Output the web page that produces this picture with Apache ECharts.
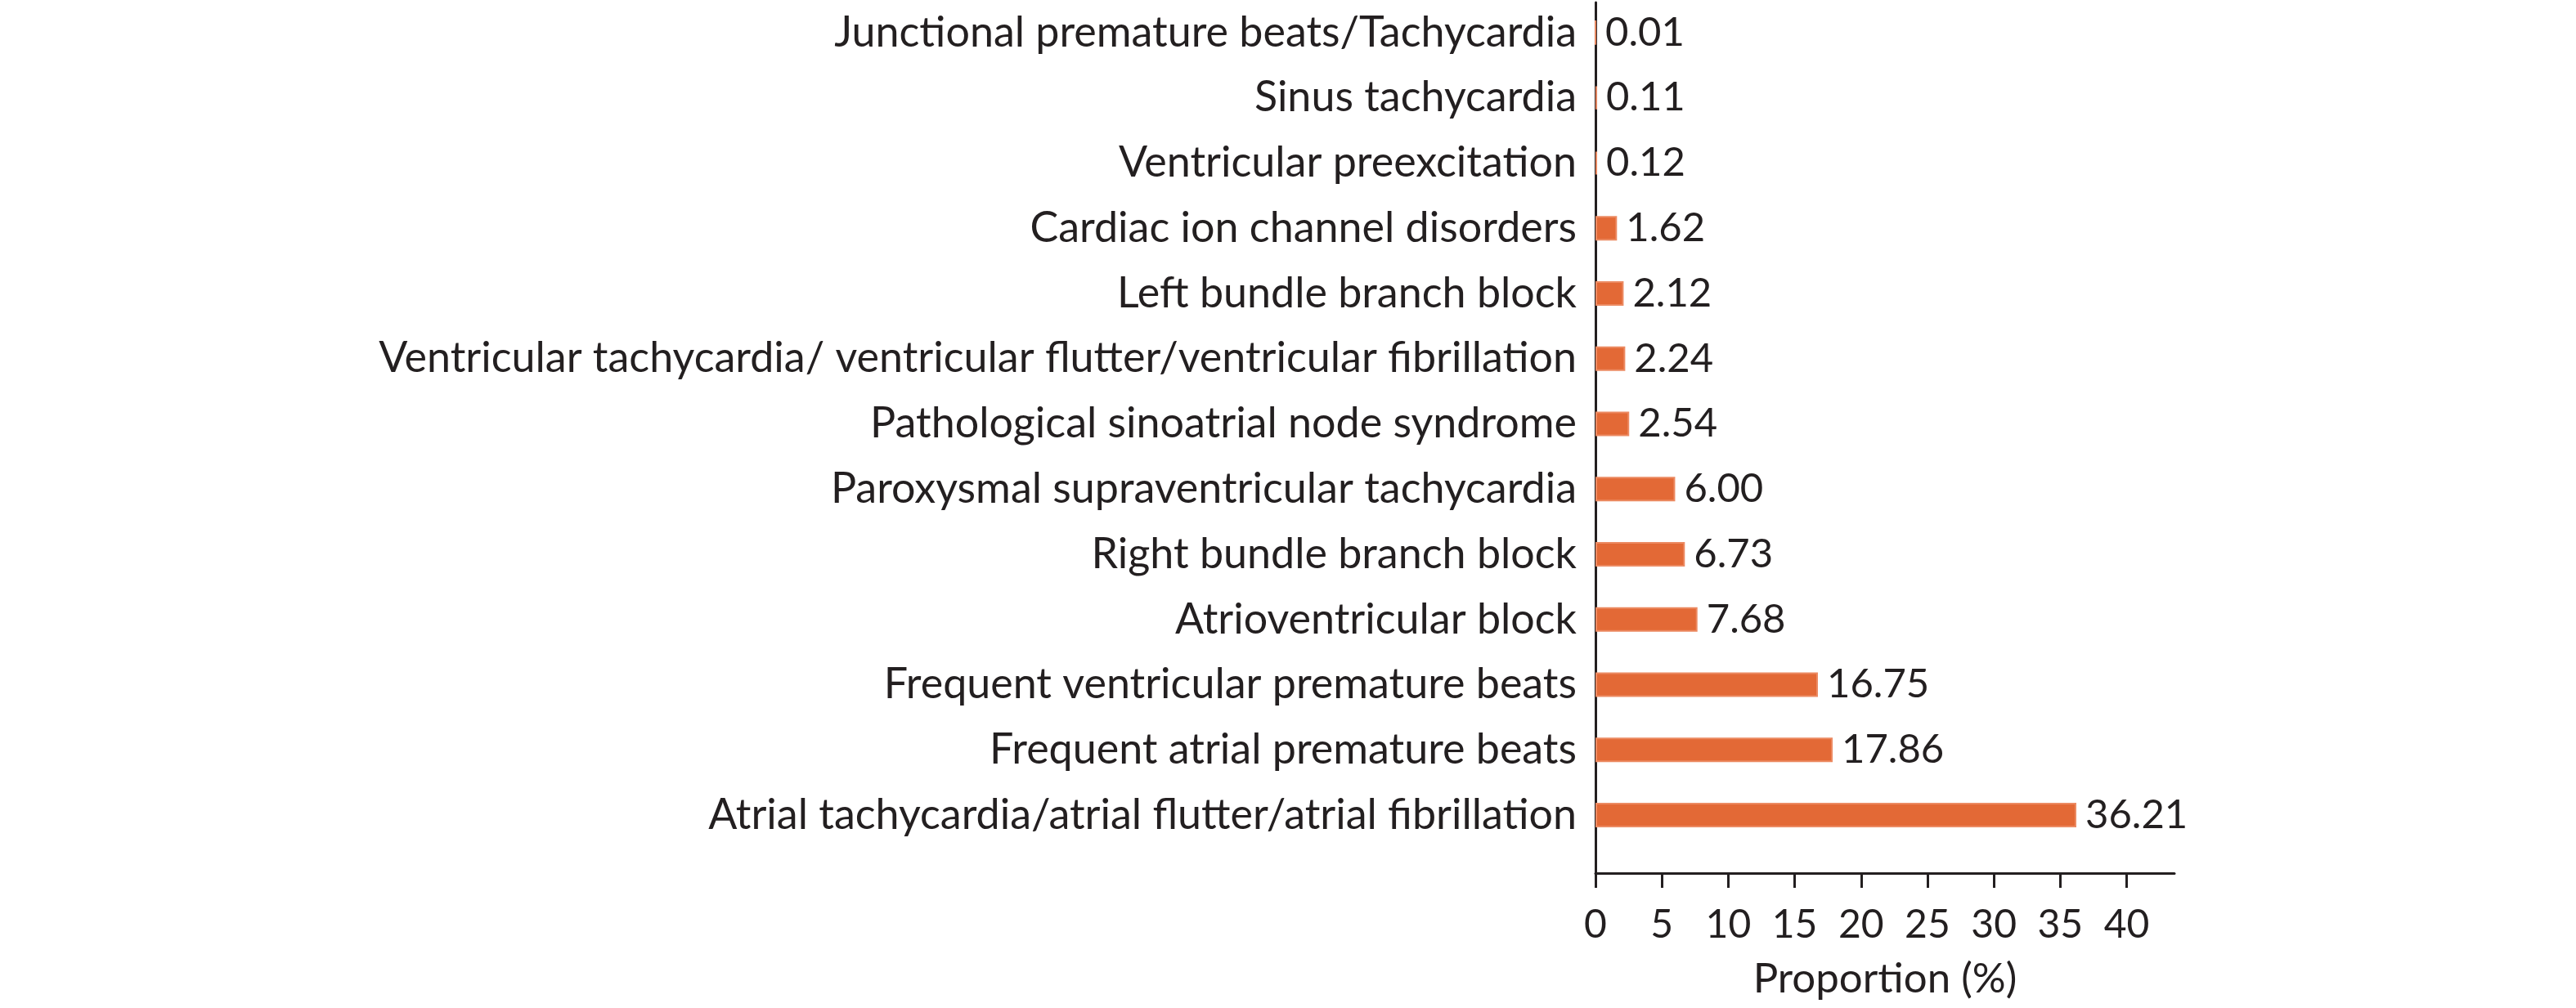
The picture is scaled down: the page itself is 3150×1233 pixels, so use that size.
<!DOCTYPE html>
<html>
<head>
<meta charset="utf-8">
<script src="https://cdn.jsdelivr.net/npm/echarts@6/dist/echarts.min.js"></script>
<style>
  html, body { margin: 0; padding: 0; background: #fff; }
  #mainChart { width: 3150px; height: 1233px; }
</style>
</head>
<body>
<div id="mainChart"></div>
<script>
// 心律失常类型占比
var categories = [
    'Junctional premature beats/Tachycardia',
    'Sinus tachycardia',
    'Ventricular preexcitation',
    'Cardiac ion channel disorders',
    'Left bundle branch block',
    'Ventricular tachycardia/ ventricular flutter/ventricular fibrillation',
    'Pathological sinoatrial node syndrome',
    'Paroxysmal supraventricular tachycardia',
    'Right bundle branch block',
    'Atrioventricular block',
    'Frequent ventricular premature beats',
    'Frequent atrial premature beats',
    'Atrial tachycardia/atrial flutter/atrial fibrillation'
];
var proportions = [0.01, 0.11, 0.12, 1.62, 2.12, 2.24, 2.54, 6.00, 6.73, 7.68, 16.75, 17.86, 36.21];
var xTicks = [0, 5, 10, 15, 20, 25, 30, 35, 40];
var xMax = 43.6;

var textColor = '#231F20';
var fontName = 'Lato, sans-serif';

var myChart = echarts.init(document.getElementById('mainChart'));

myChart.setOption({
    animation: false,
    textStyle: { fontFamily: fontName, color: textColor },
    grid: [
        // 柱子
        { left: 1951, right: 491, top: -13, bottom: 196 },
        // 坐标轴框
        { left: 1951, right: 491, top: 3, bottom: 165 }
    ],
    xAxis: [{
        gridIndex: 0,
        type: 'value',
        min: 0,
        max: xMax,
        show: false
    }, {
        gridIndex: 1,
        type: 'value',
        min: 0,
        max: xMax,
        interval: 5,
        name: 'Proportion (%)',
        nameLocation: 'middle',
        nameGap: 104,
        nameTextStyle: { fontSize: 51, color: textColor, fontFamily: fontName },
        axisLine: { show: true, lineStyle: { color: textColor, width: 3 } },
        axisTick: {
            show: true,
            customValues: xTicks,
            length: 18,
            lineStyle: { color: textColor, width: 3 }
        },
        axisLabel: {
            customValues: xTicks,
            fontSize: 48,
            color: textColor,
            fontFamily: fontName,
            margin: 40
        },
        splitLine: { show: false }
    }],
    yAxis: [{
        gridIndex: 0,
        type: 'category',
        inverse: true,
        data: categories,
        axisLine: { show: false },
        axisTick: { show: false },
        axisLabel: {
            fontSize: 52,
            color: textColor,
            fontFamily: fontName,
            margin: 23
        }
    }, {
        gridIndex: 1,
        type: 'value',
        min: 0,
        max: 1,
        axisLine: { show: true, lineStyle: { color: textColor, width: 3 } },
        axisTick: { show: false },
        axisLabel: { show: false },
        splitLine: { show: false }
    }],
    series: [{
        type: 'bar',
        xAxisIndex: 0,
        yAxisIndex: 0,
        data: proportions,
        barWidth: 30,
        itemStyle: { color: '#E36936', borderColor: '#EC8A62', borderWidth: 2 },
        label: {
            show: true,
            position: 'right',
            distance: 11,
            fontSize: 49,
            color: textColor,
            fontFamily: fontName,
            formatter: function (p) {
                return p.value.toFixed(2);
            }
        }
    }]
});
</script>
</body>
</html>
